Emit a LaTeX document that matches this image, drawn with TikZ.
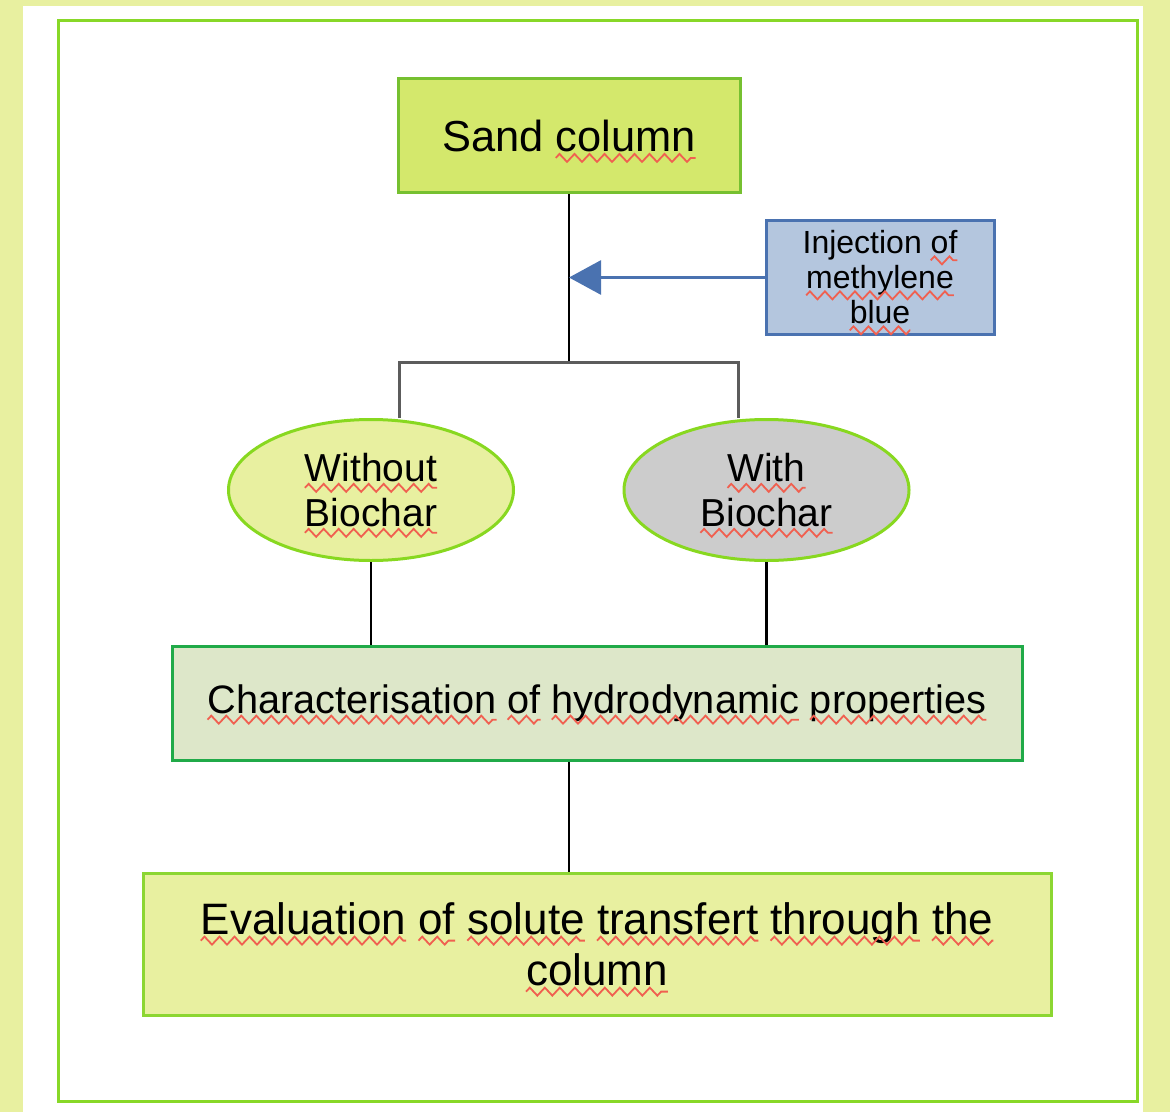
\documentclass[tikz,border=0pt]{standalone}
\usepackage{fontspec}
\setmainfont{Liberation Sans}
\usetikzlibrary{arrows.meta,shapes.geometric,decorations.pathmorphing}

\definecolor{pagebg}{RGB}{232,240,160}
\definecolor{frameline}{RGB}{136,216,40}
\definecolor{sandfill}{RGB}{212,232,108}
\definecolor{sandline}{RGB}{118,192,48}
\definecolor{injfill}{RGB}{180,198,222}
\definecolor{injline}{RGB}{74,114,176}
\definecolor{ovalline}{RGB}{136,216,32}
\definecolor{charfill}{RGB}{221,231,201}
\definecolor{charline}{RGB}{32,170,72}
\definecolor{evalline}{RGB}{140,214,50}
\definecolor{forkgray}{RGB}{92,92,92}
\definecolor{spellred}{RGB}{240,96,80}

\tikzset{
	spell/.style = {draw=spellred, line width=0.9pt, decorate, decoration={zigzag, segment length=7.5pt, amplitude=2pt}},
	word/.style = {shape=rectangle, draw=none, fill=none, inner sep=0pt, outer sep=0pt, minimum size=0pt, text width=, align=left}
}
\newcommand{\sq}[1]{\tikz[baseline=(sqword.base)]{\node[word] (sqword) {#1};\draw[spell, overlay] ([yshift=-3.2pt]sqword.base west) -- ([yshift=-3.2pt]sqword.base east);}}

\begin{document}
\begin{tikzpicture}[
	x=0.5pt, y=-0.5pt,
	box/.style = {draw, line width=1.5pt, shape=rectangle, align=center, inner sep=0pt},
	oval/.style = {draw=ovalline, line width=1.5pt, ellipse, align=center, inner sep=0pt, minimum width=142.5pt, minimum height=70.5pt, font=\fontsize{19.5}{22.5}\selectfont},
	link/.style = {line width=1.2pt, black},
	fork/.style = {line width=1.5pt, forkgray},
	inject/.style = {line width=1.5pt, injline, -{Triangle[length=16pt,width=17pt]}}
]
\useasboundingbox (0,0) rectangle (1170,1112);
\fill [pagebg] (0,0) rectangle (1170,1112);
\fill [white] (23,6) rectangle (1143,1112);
\draw [frameline, line width=1.5pt] (58,21) rectangle (1137,1101);

\node [box, draw=sandline, fill=sandfill, minimum width=171pt, minimum height=57pt, font=\fontsize{21.7}{26}\selectfont] (sand) at (569,136) {Sand \sq{column}};
\node [box, draw=injline, fill=injfill, minimum width=114pt, minimum height=56.5pt, font=\fontsize{16}{17.5}\selectfont] (inj) at (880,277.5) {Injection \sq{of}\\\sq{methylene}\\\sq{blue}};
\node [oval, fill=pagebg] (without) at (371,490) {\sq{Without}\\\sq{Biochar}};
\node [oval, fill=black!20] (with) at (766.5,490) {\sq{With}\\\sq{Biochar}};
\node [box, draw=charline, fill=charfill, minimum width=425pt, minimum height=57pt, font=\fontsize{19.85}{24}\selectfont] (char) at (597,703) {\sq{Characterisation} \sq{of} \sq{hydrodynamic} \sq{properties}};
\node [box, draw=evalline, fill=pagebg, minimum width=454pt, minimum height=71pt, font=\fontsize{22}{25.5}\selectfont] (eval) at (597,944) {\sq{Evaluation} \sq{of} \sq{solute} \sq{transfert} \sq{through} \sq{the}\\\sq{column}};

\coordinate (split) at (569,362);
\coordinate (forkl) at (399,362);
\coordinate (forkr) at (738,362);
\draw [link] (sand.south) -- (split);
\draw [fork] (forkl |- without.north) -- (forkl) -- (forkr) -- (forkr |- with.north);
\draw [inject] (inj.west) -- (inj.west -| sand.south);
\draw [link] (without.south) -- (without.south |- char.north);
\draw [link] (with.south) -- (with.south |- char.north);
\draw [link] (char.south -| split) -- (eval.north -| split);
\end{tikzpicture}
\end{document}
